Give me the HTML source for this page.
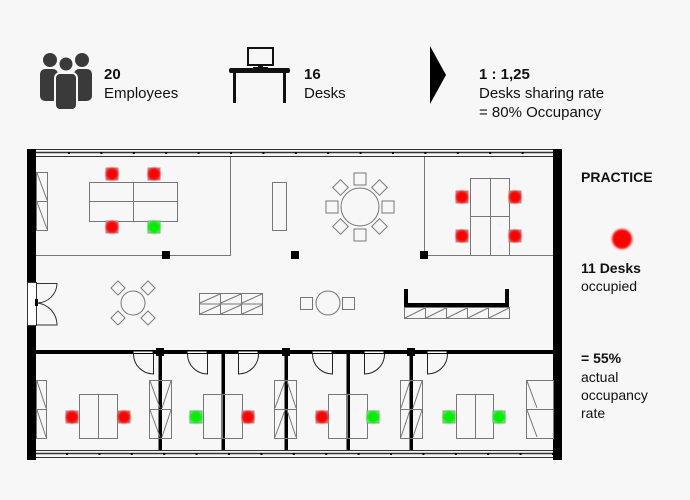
<!DOCTYPE html>
<html><head><meta charset="utf-8"><style>
html,body{margin:0;padding:0;background:#f7f7f7;}
svg{display:block;}
text{font-family:"Liberation Sans","DejaVu Sans",sans-serif;fill:#111;}
</style></head><body>
<svg width="690" height="500" viewBox="0 0 690 500" xmlns="http://www.w3.org/2000/svg">
<defs>
<filter id="gl" x="-50%" y="-50%" width="200%" height="200%"><feGaussianBlur stdDeviation="1"/></filter>
</defs>
<rect width="690" height="500" fill="#f7f7f7"/>
<!-- top icons -->
<g fill="#3a3a3a">
<circle cx="50" cy="60" r="7"/><rect x="40" y="69" width="18" height="32" rx="5"/>
<circle cx="82" cy="60" r="7"/><rect x="74" y="69" width="18" height="32" rx="5"/>
<circle cx="66" cy="64" r="7.5" stroke="#f7f7f7" stroke-width="2"/><rect x="55" y="73" width="22" height="37" rx="5" stroke="#f7f7f7" stroke-width="2"/>
</g>
<text x="104" y="79" font-size="15" font-weight="bold">20</text>
<text x="104" y="98" font-size="15">Employees</text>
<g>
<rect x="248" y="48" width="25" height="17" fill="none" stroke="#111" stroke-width="2"/>
<rect x="258" y="65" width="5" height="3" fill="#111"/><rect x="253" y="67" width="15" height="2" fill="#111"/>
<rect x="229" y="68" width="61" height="5" rx="2" fill="#111"/>
<rect x="233" y="72" width="3" height="31" fill="#111"/><rect x="283" y="72" width="3" height="31" fill="#111"/>
</g>
<text x="304" y="79" font-size="15" font-weight="bold">16</text>
<text x="304" y="98" font-size="15">Desks</text>
<polygon points="430,46 446,75 430,104" fill="#000"/>
<text x="479" y="79" font-size="15" font-weight="bold">1 : 1,25</text>
<text x="479" y="98" font-size="15">Desks sharing rate</text>
<text x="479" y="117" font-size="15">= 80% Occupancy</text>

<!-- right text -->
<text x="581" y="182" font-size="14" font-weight="bold">PRACTICE</text>
<circle cx="622" cy="239" r="10" fill="#ff0000" filter="url(#gl)"/>
<text x="581" y="273" font-size="14" font-weight="bold">11 Desks</text>
<text x="581" y="291" font-size="14">occupied</text>
<text x="581" y="363" font-size="14" font-weight="bold">= 55%</text>
<text x="581" y="382" font-size="14">actual</text>
<text x="581" y="400" font-size="14">occupancy</text>
<text x="581" y="418" font-size="14">rate</text>

<!-- walls -->
<rect x="27" y="149" width="9" height="311" fill="#000"/>
<rect x="553" y="149" width="9" height="311" fill="#000"/>
<g stroke="#333" stroke-width="1" fill="none">
<line x1="36" y1="149.5" x2="553" y2="149.5"/><line x1="36" y1="152.5" x2="553" y2="152.5" stroke-width="1.5"/><line x1="36" y1="156.5" x2="553" y2="156.5"/>
<line x1="36" y1="450.5" x2="553" y2="450.5"/><line x1="36" y1="453.5" x2="553" y2="453.5" stroke-width="1.5"/><line x1="36" y1="457.5" x2="553" y2="457.5"/>
</g>
<g stroke="#000" stroke-width="2" stroke-dasharray="2 30.4">
<line x1="68" y1="153" x2="553" y2="153"/>
<line x1="66" y1="454" x2="553" y2="454"/>
</g>
<!-- upper rooms -->
<g stroke="#777" stroke-width="1" fill="none">
<polyline points="36,255.5 230.5,255.5 230.5,157"/>
<polyline points="424.5,157 424.5,255.5 553,255.5"/>
<rect x="36.5" y="172.5" width="11" height="58"/><line x1="36" y1="201.5" x2="47" y2="201.5"/>
<line x1="37" y1="173" x2="47" y2="200"/><line x1="37" y1="202" x2="47" y2="229"/>
<rect x="89.5" y="182.5" width="88" height="39"/><line x1="133.5" y1="182" x2="133.5" y2="221"/><line x1="89" y1="201.5" x2="177" y2="201.5"/>
<rect x="272.5" y="182.5" width="14" height="48"/>
<circle cx="360" cy="207" r="19"/>
<rect x="354" y="173" width="12" height="12"/><rect x="354" y="229" width="12" height="12"/>
<rect x="326" y="201" width="12" height="12"/><rect x="382" y="201" width="12" height="12"/>
<rect x="335" y="182" width="11" height="11" transform="rotate(45 340.5 187.5)"/>
<rect x="374" y="182" width="11" height="11" transform="rotate(45 379.5 187.5)"/>
<rect x="335" y="221" width="11" height="11" transform="rotate(45 340.5 226.5)"/>
<rect x="374" y="221" width="11" height="11" transform="rotate(45 379.5 226.5)"/>
<rect x="470.5" y="178.5" width="39" height="77"/><line x1="490.5" y1="178" x2="490.5" y2="255"/><line x1="470" y1="216.5" x2="509" y2="216.5"/>
<circle cx="133" cy="303" r="12"/>
<rect x="113" y="283" width="10" height="10" transform="rotate(45 118 288)"/>
<rect x="143" y="283" width="10" height="10" transform="rotate(45 148 288)"/>
<rect x="113" y="313" width="10" height="10" transform="rotate(45 118 318)"/>
<rect x="143" y="313" width="10" height="10" transform="rotate(45 148 318)"/>
<rect x="199.5" y="293.5" width="63" height="21"/><line x1="199" y1="304" x2="262" y2="304"/>
<line x1="220.5" y1="293" x2="220.5" y2="314"/><line x1="241.5" y1="293" x2="241.5" y2="314"/>
<line x1="200" y1="303" x2="220" y2="294"/><line x1="221" y1="303" x2="241" y2="294"/><line x1="242" y1="303" x2="262" y2="294"/>
<line x1="200" y1="314" x2="220" y2="305"/><line x1="221" y1="314" x2="241" y2="305"/><line x1="242" y1="314" x2="262" y2="305"/>
<circle cx="328" cy="303" r="12"/><rect x="300.5" y="297.5" width="12" height="12"/><rect x="342.5" y="297.5" width="12" height="12"/>
<rect x="404.5" y="307.5" width="105" height="11"/>
<line x1="425.5" y1="307" x2="425.5" y2="318"/><line x1="446.5" y1="307" x2="446.5" y2="318"/><line x1="467.5" y1="307" x2="467.5" y2="318"/><line x1="488.5" y1="307" x2="488.5" y2="318"/>
<line x1="405" y1="318" x2="425" y2="308"/><line x1="426" y1="318" x2="446" y2="308"/><line x1="447" y1="318" x2="467" y2="308"/><line x1="468" y1="318" x2="488" y2="308"/><line x1="489" y1="318" x2="509" y2="308"/>
</g>
<path d="M406,289 V305 H507 V289" fill="none" stroke="#000" stroke-width="4"/>
<rect x="162" y="251" width="8" height="8" fill="#000"/>
<rect x="291" y="251" width="8" height="8" fill="#000"/>
<rect x="420" y="251" width="8" height="8" fill="#000"/>
<rect x="27.5" y="282.5" width="9" height="43" fill="#fff" stroke="#333"/>
<rect x="35" y="299" width="3" height="7" fill="#000"/>
<g fill="none" stroke="#333">
<path d="M37,283.5 H57 A20,20 0 0 1 37,303"/>
<path d="M37,303 A22,22 0 0 1 57,325 H37"/>
</g>

<!-- lower offices -->
<rect x="36" y="350" width="517" height="4" fill="#000"/>
<g fill="#000">
<rect x="158.5" y="352" width="3.5" height="98"/><rect x="221.5" y="352" width="3.5" height="98"/><rect x="284.5" y="352" width="3.5" height="98"/><rect x="346.5" y="352" width="3.5" height="98"/><rect x="409.5" y="352" width="3.5" height="98"/>
<rect x="156" y="348" width="8" height="8"/><rect x="282" y="348" width="8" height="8"/><rect x="407" y="348" width="8" height="8"/>
</g>
<g fill="#f7f7f7" stroke="#000" stroke-width="1">
<rect x="133" y="351" width="20" height="2.5"/><rect x="187" y="351" width="20" height="2.5"/><rect x="238" y="351" width="20" height="2.5"/>
<rect x="312" y="351" width="20" height="2.5"/><rect x="364" y="351" width="20" height="2.5"/><rect x="427" y="351" width="20" height="2.5"/>
</g>
<g fill="none" stroke="#222" stroke-width="1">
<path d="M153.5,354 V374 A20,20 0 0 1 133.5,354"/>
<path d="M207.5,354 V374 A20,20 0 0 1 187.5,354"/>
<path d="M238.5,354 V374 A20,20 0 0 0 258.5,354"/>
<path d="M332.5,354 V374 A20,20 0 0 1 312.5,354"/>
<path d="M364.5,354 V374 A20,20 0 0 0 384.5,354"/>
<path d="M427.5,354 V374 A20,20 0 0 0 447.5,354"/>
</g>
<g fill="none" stroke="#777" stroke-width="1">
<rect x="36.5" y="380.5" width="10" height="58"/><line x1="36" y1="409.5" x2="46" y2="409.5"/><line x1="37" y1="381" x2="46" y2="408"/><line x1="37" y1="410" x2="46" y2="437"/>
<rect x="149.5" y="380.5" width="22" height="58"/><line x1="149" y1="409.5" x2="171" y2="409.5"/><line x1="150" y1="381" x2="160" y2="408"/><line x1="150" y1="410" x2="160" y2="437"/><line x1="171" y1="381" x2="162" y2="408"/><line x1="171" y1="410" x2="162" y2="437"/>
<rect x="274.5" y="380.5" width="22" height="58"/><line x1="274" y1="409.5" x2="296" y2="409.5"/><line x1="275" y1="408" x2="285" y2="381"/><line x1="275" y1="437" x2="285" y2="410"/><line x1="296" y1="408" x2="287" y2="381"/><line x1="296" y1="437" x2="287" y2="410"/>
<rect x="400.5" y="380.5" width="22" height="58"/><line x1="400" y1="409.5" x2="422" y2="409.5"/><line x1="401" y1="408" x2="410" y2="381"/><line x1="401" y1="437" x2="410" y2="410"/><line x1="422" y1="381" x2="413" y2="408"/><line x1="422" y1="410" x2="413" y2="437"/>
<rect x="526.5" y="380.5" width="27" height="58"/><line x1="526" y1="409.5" x2="553" y2="409.5"/><line x1="527" y1="381" x2="537" y2="408"/><line x1="527" y1="410" x2="537" y2="437"/>
<rect x="79.5" y="394.5" width="38" height="44"/><line x1="98.5" y1="394" x2="98.5" y2="438"/>
<rect x="203.5" y="394.5" width="39" height="44"/><line x1="222.5" y1="394" x2="222.5" y2="438"/>
<rect x="328.5" y="394.5" width="39" height="44"/><line x1="347.5" y1="394" x2="347.5" y2="438"/>
<rect x="456.5" y="394.5" width="37" height="44"/><line x1="475.5" y1="394" x2="475.5" y2="438"/>
</g>
<g stroke="#999" stroke-width="1">
<g fill="#ff6666">
<rect x="106" y="168" width="12" height="12"/><rect x="148" y="168" width="12" height="12"/><rect x="106" y="221" width="12" height="12"/>
<rect x="456" y="191" width="12" height="12"/><rect x="509" y="191" width="12" height="12"/><rect x="456" y="230" width="12" height="12"/><rect x="509" y="230" width="12" height="12"/>
<rect x="66" y="411" width="12" height="12"/><rect x="118" y="411" width="12" height="12"/><rect x="242" y="411" width="12" height="12"/><rect x="316" y="411" width="12" height="12"/>
</g>
<g fill="#66ff66">
<rect x="148" y="221" width="12" height="12"/><rect x="190" y="411" width="12" height="12"/><rect x="367" y="411" width="12" height="12"/><rect x="443" y="411" width="12" height="12"/><rect x="493" y="411" width="12" height="12"/>
</g>
</g>
<g filter="url(#gl)">
<g fill="#ff0000">
<circle cx="112" cy="174" r="6"/><circle cx="154" cy="174" r="6"/><circle cx="112" cy="227" r="6"/>
<circle cx="462" cy="197" r="6"/><circle cx="515" cy="197" r="6"/><circle cx="462" cy="236" r="6"/><circle cx="515" cy="236" r="6"/>
<circle cx="72" cy="417" r="6"/><circle cx="124" cy="417" r="6"/><circle cx="248" cy="417" r="6"/><circle cx="322" cy="417" r="6"/>
</g>
<g fill="#00ee00">
<circle cx="154" cy="227" r="6"/><circle cx="196" cy="417" r="6"/><circle cx="373" cy="417" r="6"/><circle cx="449" cy="417" r="6"/><circle cx="499" cy="417" r="6"/>
</g>
</g>
</svg>
</body></html>
